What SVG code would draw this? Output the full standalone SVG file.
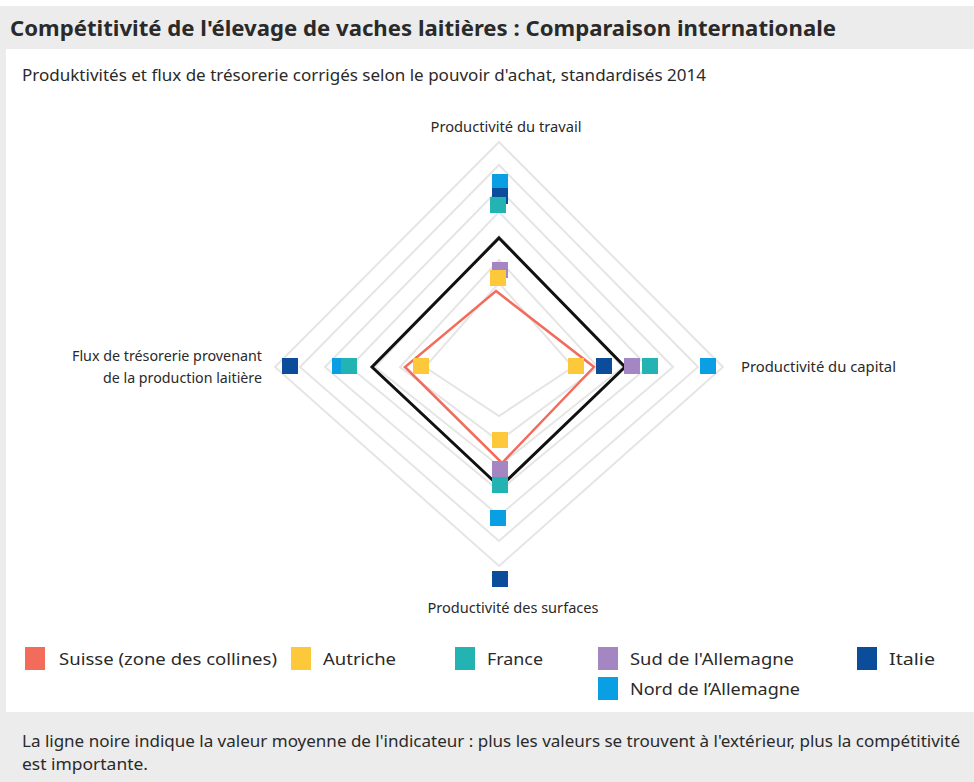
<svg xmlns="http://www.w3.org/2000/svg" width="974" height="782" viewBox="0 0 974 782">
<style>
.t{font-family:"Noto Sans","Open Sans",sans-serif;fill:#2a2a2a}
.grid{fill:none;stroke:#e5e5e5;stroke-width:2}
.m{stroke:none}
.sw{stroke:none}
</style>
<rect x="0" y="0" width="974" height="782" fill="#ffffff"/>
<rect x="0" y="6" width="974" height="43" fill="#ececec"/>
<rect x="0" y="49" width="6" height="663" fill="#ececec"/>
<rect x="0" y="712" width="974" height="70" fill="#ececec"/>
<text class="t" x="10" y="36" font-size="22" font-weight="bold" textLength="826" lengthAdjust="spacingAndGlyphs" fill="#1a1a1a">Compétitivité de l'élevage de vaches laitières : Comparaison internationale</text>
<text class="t" x="22" y="81" font-size="17" textLength="684" lengthAdjust="spacingAndGlyphs">Produktivités et flux de trésorerie corrigés selon le pouvoir d'achat, standardisés 2014</text>

<g id="grid">
<polygon class="grid" points="499,142 723,367 499,566 275,367"/>
<polygon class="grid" points="499,165 698,367 499,541 300,367"/>
<polygon class="grid" points="499,189 673,367 499,516 325,367"/>
<polygon class="grid" points="499,212 648,367 499,491 350,367"/>
<polygon class="grid" points="499,236 623,367 499,466 375,367"/>
<polygon class="grid" points="499,260 598,367 499,441 400,367"/>
<polygon class="grid" points="499,283 573,367 499,416 425,367"/>
</g>

<g id="axis-labels">
<text class="t" x="506" y="132" font-size="13.5" text-anchor="middle" textLength="151" lengthAdjust="spacingAndGlyphs">Productivité du travail</text>
<text class="t" x="741" y="372" font-size="13.5" textLength="155" lengthAdjust="spacingAndGlyphs">Productivité du capital</text>
<text class="t" x="72" y="361" font-size="13.5" textLength="190" lengthAdjust="spacingAndGlyphs">Flux de trésorerie provenant</text>
<text class="t" x="103" y="383" font-size="13.5" textLength="159" lengthAdjust="spacingAndGlyphs">de la production laitière</text>
<text class="t" x="513" y="613" font-size="13.5" text-anchor="middle" textLength="171" lengthAdjust="spacingAndGlyphs">Productivité des surfaces</text>
</g>

<g id="series-lines">
<polygon id="moyenne" points="499,238 625,367 500,487 372,367" fill="none" stroke="#111" stroke-width="3" stroke-linejoin="miter"/>
<polygon id="suisse" points="496,291 594,367 502,463 405,367" fill="none" stroke="#f26b5b" stroke-width="2.5"/>
</g>

<g id="markers">
<g id="nord" fill="#0a9fe2">
<rect class="m" x="492" y="174" width="16" height="16"/>
<rect class="m" x="332" y="358" width="16" height="16"/>
<rect class="m" x="700" y="358" width="16" height="16"/>
<rect class="m" x="490" y="510" width="16" height="16"/>
</g>
<g id="italie" fill="#0b4c9b">
<rect class="m" x="492" y="188" width="16" height="16"/>
<rect class="m" x="282" y="358" width="16" height="16"/>
<rect class="m" x="596" y="358" width="16" height="16"/>
<rect class="m" x="492" y="571" width="16" height="16"/>
</g>
<g id="france" fill="#22b3b2">
<rect class="m" x="490" y="197" width="16" height="16"/>
<rect class="m" x="341" y="358" width="16" height="16"/>
<rect class="m" x="642" y="358" width="16" height="16"/>
<rect class="m" x="492" y="477" width="16" height="16"/>
</g>
<g id="sud" fill="#a486c2">
<rect class="m" x="492" y="262" width="16" height="16"/>
<rect class="m" x="624" y="358" width="16" height="16"/>
<rect class="m" x="492" y="461" width="16" height="16"/>
</g>
<g id="autriche" fill="#fdc93b">
<rect class="m" x="490" y="270" width="16" height="16"/>
<rect class="m" x="413" y="358" width="16" height="16"/>
<rect class="m" x="568" y="358" width="16" height="16"/>
<rect class="m" x="492" y="432" width="16" height="16"/>
</g>
</g>

<g id="legend">
<g id="leg-suisse"><rect class="sw" x="25" y="647" width="20" height="23" fill="#f26b5b"/><text class="t" x="59" y="665" font-size="17" textLength="218" lengthAdjust="spacingAndGlyphs">Suisse (zone des collines)</text></g>
<g id="leg-autriche"><rect class="sw" x="291" y="647" width="20" height="23" fill="#fdc93b"/><text class="t" x="323" y="665" font-size="17" textLength="73" lengthAdjust="spacingAndGlyphs">Autriche</text></g>
<g id="leg-france"><rect class="sw" x="455" y="647" width="20" height="23" fill="#22b3b2"/><text class="t" x="487" y="665" font-size="17" textLength="56" lengthAdjust="spacingAndGlyphs">France</text></g>
<g id="leg-sud"><rect class="sw" x="598" y="647" width="20" height="23" fill="#a486c2"/><text class="t" x="630" y="665" font-size="17" textLength="164" lengthAdjust="spacingAndGlyphs">Sud de l'Allemagne</text></g>
<g id="leg-italie"><rect class="sw" x="857" y="647" width="20" height="23" fill="#0b4c9b"/><text class="t" x="889" y="665" font-size="17" textLength="46" lengthAdjust="spacingAndGlyphs">Italie</text></g>
<g id="leg-nord"><rect class="sw" x="598" y="677" width="20" height="23" fill="#0a9fe2"/><text class="t" x="630" y="695" font-size="17" textLength="170" lengthAdjust="spacingAndGlyphs">Nord de l’Allemagne</text></g>
</g>

<g id="footer">
<text class="t" x="22" y="747" font-size="16" textLength="938" lengthAdjust="spacingAndGlyphs">La ligne noire indique la valeur moyenne de l'indicateur : plus les valeurs se trouvent à l'extérieur, plus la compétitivité</text>
<text class="t" x="22" y="770" font-size="16" textLength="126" lengthAdjust="spacingAndGlyphs">est importante.</text>
</g>
</svg>
